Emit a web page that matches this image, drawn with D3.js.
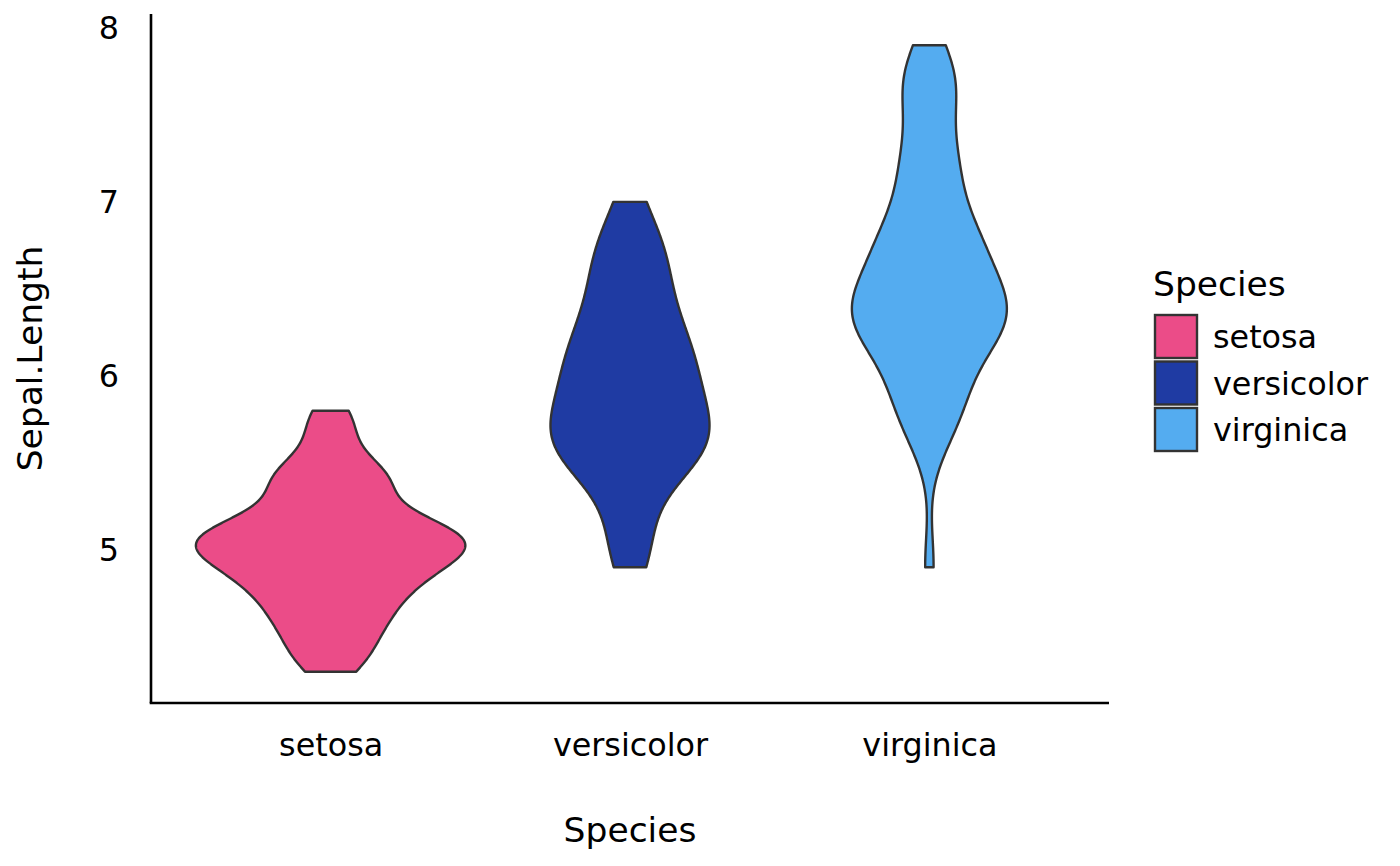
<!DOCTYPE html>
<html><head><meta charset="utf-8">
<script src="https://cdn.jsdelivr.net/npm/d3@7"></script>
<style>body{margin:0;background:#fff}svg text{font-family:"DejaVu Sans",sans-serif}</style>
</head><body><svg id="c" width="1400" height="866"></svg>
<script>
const categories = ["setosa","versicolor","virginica"];
const colors = ["#EB4C88","#1F3BA3","#54ACF0"];
const yTicks = [5,6,7,8];
const setosa = [5.1,4.9,4.7,4.6,5.0,5.4,4.6,5.0,4.4,4.9,5.4,4.8,4.8,4.3,5.8,5.7,5.4,5.1,5.7,5.1,5.4,5.1,4.6,5.1,4.8,5.0,5.0,5.2,5.2,4.7,4.8,5.4,5.2,5.5,4.9,5.0,5.5,4.9,4.4,5.1,5.0,4.5,4.4,5.0,5.1,4.8,5.1,4.6,5.3,5.0];
const versicolor = [7.0,6.4,6.9,5.5,6.5,5.7,6.3,4.9,6.6,5.2,5.0,5.9,6.0,6.1,5.6,6.7,5.6,5.8,6.2,5.6,5.9,6.1,6.3,6.1,6.4,6.6,6.8,6.7,6.0,5.7,5.5,5.5,5.8,6.0,5.4,6.0,6.7,6.3,5.6,5.5,5.5,6.1,5.8,5.0,5.6,5.7,5.7,6.2,5.1,5.7];
const virginica = [6.3,5.8,7.1,6.3,6.5,7.6,4.9,7.3,6.7,7.2,6.5,6.4,6.8,5.7,5.8,6.4,6.5,7.7,7.7,6.0,6.9,5.6,7.7,6.3,6.7,7.2,6.2,6.1,6.4,7.2,7.4,7.9,6.4,6.3,6.1,7.7,6.3,6.4,6.0,6.9,6.7,6.9,5.8,6.8,6.7,6.7,6.3,6.5,6.2,5.9];
const groups = [setosa, versicolor, virginica];

const LABEL = 31.8, TITLE = 34.5;
const svg = d3.select("#c");
const L=151, R=1109, T=14, B=703;
const allVals = groups.flat();
const ext = d3.extent(allVals), pad=(ext[1]-ext[0])*0.05;
const y = d3.scaleLinear().domain([ext[0]-pad, ext[1]+pad]).range([B,T]);
// ggplot discrete expansion 0.6 units each side
const xs = d3.scalePoint().domain(categories).range([L,R]).padding(0.6);
const unit = xs.step();

function quant(s,p){const h=(s.length-1)*p, lo=Math.floor(h); return s[lo]+(h-lo)*((s[lo+1]??s[lo])-s[lo]);}
function kde(vals){
  const s=vals.slice().sort((a,b)=>a-b), n=s.length;
  const sd=d3.deviation(s), iqr=quant(s,0.75)-quant(s,0.25);
  const bw=0.9*Math.min(sd,iqr/1.34)*Math.pow(n,-0.2);
  const lo=s[0], hi=s[n-1], pts=[];
  for(let k=0;k<512;k++){const t=lo+(hi-lo)*k/511;let d=0;for(const v of s){const z=(t-v)/bw;d+=Math.exp(-0.5*z*z);}pts.push([t,d/(n*bw*Math.sqrt(2*Math.PI))]);}
  return pts;
}
const dens = groups.map(kde);
const maxD = d3.max(dens.flat(), d=>d[1]);
const w = d3.scaleLinear().domain([0,maxD]).range([0,0.45*unit]);

dens.forEach((pts,i)=>{
  const c = xs(categories[i]);
  const right = pts.map(p=>[c+w(p[1]), y(p[0])]);
  const left = pts.slice().reverse().map(p=>[c-w(p[1]), y(p[0])]);
  svg.append("path").attr("d", d3.line()(right.concat(left))+"Z")
    .attr("fill",colors[i]).attr("stroke","#333333").attr("stroke-width",2.4).attr("stroke-linejoin","round");
});

// axes
const yAxis = svg.append("g").attr("transform",`translate(${L},0)`)
  .call(d3.axisLeft(y).tickValues(yTicks).tickFormat(d3.format("d")).tickSize(0).tickPadding(32));
yAxis.select(".domain").attr("d",`M0,${T}V${B}`).attr("stroke","#000").attr("stroke-width",2.6);
yAxis.selectAll("text").attr("font-size",LABEL).attr("fill","#000").style("font-family","DejaVu Sans");
const xAxis = svg.append("g").attr("transform",`translate(0,${B})`).call(d3.axisBottom(xs).tickSize(0).tickPadding(30));
xAxis.select(".domain").attr("d",`M${L-1.3},0H${R}`).attr("stroke","#000").attr("stroke-width",2.6);
xAxis.selectAll("text").attr("font-size",LABEL).attr("fill","#000").style("font-family","DejaVu Sans");

svg.append("text").attr("x",(L+R)/2).attr("y",842).attr("text-anchor","middle").attr("font-size",TITLE).text("Species");
svg.append("text").attr("transform",`translate(42,${(T+B)/2}) rotate(-90)`).attr("text-anchor","middle").attr("font-size",TITLE).text("Sepal.Length");

// legend
const lg = svg.append("g");
lg.append("text").attr("x",1153).attr("y",296).attr("font-size",TITLE).text("Species");
categories.forEach((c,i)=>{
  const y0 = 314 + i*46.5;
  lg.append("rect").attr("x",1155).attr("y",y0+1).attr("width",42).attr("height",43)
    .attr("fill",colors[i]).attr("stroke","#333333").attr("stroke-width",2.4);
  lg.append("text").attr("x",1213).attr("y",y0+23).attr("dy","0.35em").attr("font-size",LABEL).text(c);
});
</script></body></html>
